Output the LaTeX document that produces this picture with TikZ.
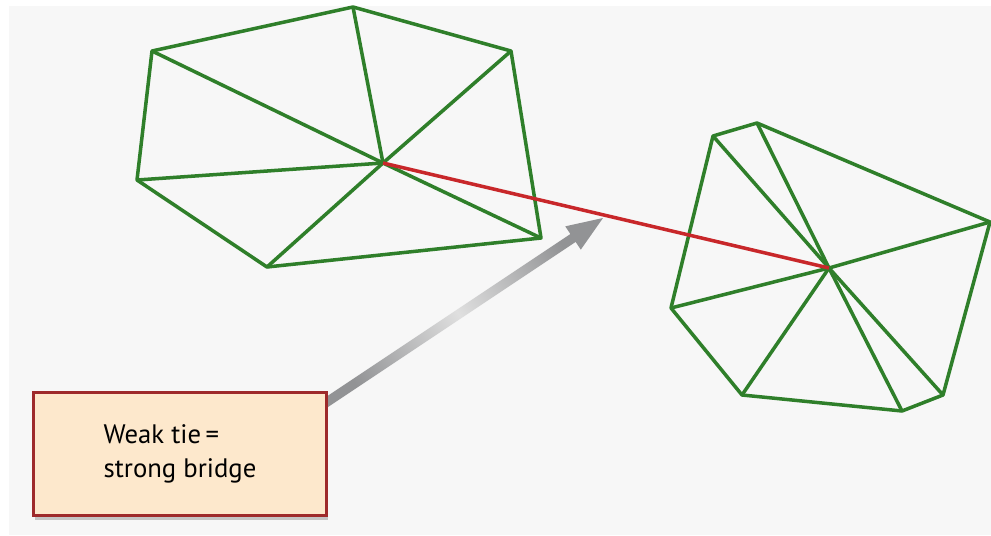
\documentclass[tikz,border=0pt]{standalone}
\usepackage{fontspec}
\newfontfamily\notefont{PT Sans}
\usetikzlibrary{calc}
\usetikzlibrary{shadows}
\definecolor{GREEN}{HTML}{2F7F2A}
\definecolor{RED}{HTML}{C8272A}
\definecolor{BACK}{HTML}{F7F7F7}
\definecolor{PEACH}{HTML}{FDE8CC}
\definecolor{BORDER}{HTML}{9E2A2B}
\definecolor{GRAYD}{HTML}{929395}
\definecolor{GRAYL}{HTML}{DFDFDF}

\tikzset{
    tie/.style={GREEN, line width=2pt, line join=round},
    bridge/.style={RED, line width=2pt},
    notebox/.style={draw=BORDER, line width=1.8pt, fill=PEACH,
        minimum width=5.86cm, minimum height=2.46cm, align=left,
        font=\notefont\fontsize{15.2}{19}\selectfont,
        drop shadow={shadow xshift=1pt, shadow yshift=-2.5pt, opacity=0.35, fill=black!60}}
}

\begin{document}
\begin{tikzpicture}[x=0.02cm, y=-0.02cm]
    \useasboundingbox (0,0) rectangle (991,535);
    \fill[white] (0,0) rectangle (991,535);
    \fill[BACK] (9,6) rectangle (991,535);

    % left group
    \coordinate (ca) at (383,163);
    \coordinate (a1) at (152,51);
    \coordinate (a2) at (353,7);
    \coordinate (a3) at (511,51);
    \coordinate (a4) at (541,238);
    \coordinate (a5) at (267,267);
    \coordinate (a6) at (137,180);
    \draw[tie] (a1) -- (a2) -- (a3) -- (a4) -- (a5) -- (a6) -- cycle;
    \foreach \v in {a1,a2,a3,a4,a5,a6}
        \draw[tie] (ca) -- (\v);

    % right group
    \coordinate (cb) at (829,268);
    \coordinate (b1) at (713,136);
    \coordinate (b2) at (757,123);
    \coordinate (b3) at (990,222);
    \coordinate (b4) at (943,395);
    \coordinate (b5) at (902,411);
    \coordinate (b6) at (742,395);
    \coordinate (b7) at (671,308);
    \draw[tie] (b1) -- (b2) -- (b3) -- (b4) -- (b5) -- (b6) -- (b7) -- cycle;
    \foreach \v in {b1,b2,b3,b4,b5,b6,b7}
        \draw[tie] (cb) -- (\v);

    % the bridge
    \draw[bridge] (ca) -- (cb);

    % pointer
    \coordinate (tip) at (603,218);
    \coordinate (tail) at (318,408);
    \coordinate (base) at ($(tip)!0.72cm!(tail)$);
    \shade[left color=GRAYD, right color=GRAYD, middle color=GRAYL, shading angle=123.7]
        ($(tail)!0.095cm!90:(tip)$) -- ($(base)!0.095cm!90:(tip)$)
        -- ($(base)!0.28cm!90:(tip)$) -- (tip)
        -- ($(base)!0.28cm!-90:(tip)$) -- ($(base)!0.095cm!-90:(tip)$)
        -- ($(tail)!0.095cm!-90:(tip)$) -- cycle;

    \node[notebox] (note) at (180,454) {Weak tie\,=\\strong bridge};
\end{tikzpicture}
\end{document}
